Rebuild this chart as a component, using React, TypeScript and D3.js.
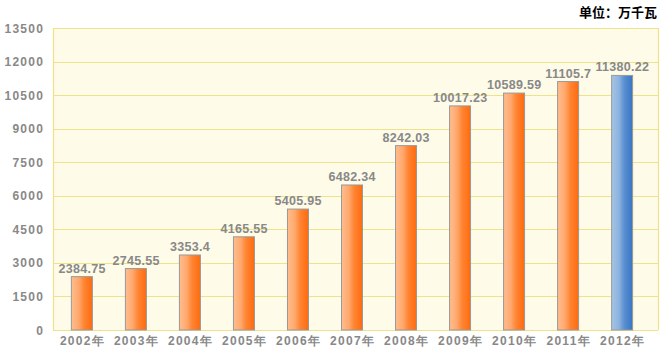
import React from "react";
import * as d3 from "d3";

const categories = ["2002年","2003年","2004年","2005年","2006年","2007年","2008年","2009年","2010年","2011年","2012年"];
const values = [2384.75, 2745.55, 3353.4, 4165.55, 5405.95, 6482.34, 8242.03, 10017.23, 10589.59, 11105.7, 11380.22];
const valueLabels = ["2384.75","2745.55","3353.4","4165.55","5405.95","6482.34","8242.03","10017.23","10589.59","11105.7","11380.22"];
const yTicks = [0, 1500, 3000, 4500, 6000, 7500, 9000, 10500, 12000, 13500];
const unitLabel = "单位：万千瓦";

export default function App() {
  const W = 663, H = 355;
  const plotL = 53, plotR = 658, plotT = 28, plotB = 330;
  const x = d3.scaleBand<string>().domain(categories).range([55, 649]).paddingInner(0.605).paddingOuter(0.3);
  const y = d3.scaleLinear().domain([0, 13500]).range([plotB, plotT]);
  const font = "'Liberation Sans', Arial, sans-serif";
  const bw = 21;
  const grid = "#EEE28A";
  return (
    <svg width={W} height={H} style={{ position: "absolute", left: 0, top: 0 }}>
      <defs>
        <linearGradient id="orange" x1="0" x2="1" y1="0" y2="0">
          <stop offset="0" stopColor="#FFBD8E" />
          <stop offset="0.35" stopColor="#FFA86E" />
          <stop offset="0.6" stopColor="#FF8533" />
          <stop offset="1" stopColor="#FF6A0E" />
        </linearGradient>
        <linearGradient id="blue" x1="0" x2="1" y1="0" y2="0">
          <stop offset="0" stopColor="#A6C4E6" />
          <stop offset="0.35" stopColor="#8DB3DF" />
          <stop offset="0.6" stopColor="#5A8FD0" />
          <stop offset="1" stopColor="#3876C4" />
        </linearGradient>
      </defs>
      <rect x={0} y={0} width={W} height={H} fill="#ffffff" />
      <rect x={plotL} y={plotT} width={plotR - plotL} height={plotB - plotT} fill="#FEFBE8" />
      {yTicks.map((t) => (
        <g key={t}>
          <line x1={plotL} x2={plotR} y1={Math.round(y(t)) + 0.5} y2={Math.round(y(t)) + 0.5} stroke={grid} strokeWidth={1.2} />
          <text x={44.3} y={y(t) + 4.5} textAnchor="end" fontFamily={font} fontSize={12} fontWeight="bold" letterSpacing={1.3} fill="#888888">{t}</text>
        </g>
      ))}
      <line x1={plotL + 0.5} x2={plotL + 0.5} y1={plotT} y2={plotB} stroke={grid} strokeWidth={1.2} />
      <line x1={plotR + 0.5} x2={plotR + 0.5} y1={plotT} y2={plotB} stroke={grid} strokeWidth={1.2} />
      {categories.map((c, i) => {
        const cx = (x(c) as number) + x.bandwidth() / 2;
        const top = y(values[i]);
        return (
          <g key={c}>
            <rect x={cx - bw / 2} y={top} width={bw} height={plotB - top}
              fill={i === categories.length - 1 ? "url(#blue)" : "url(#orange)"} stroke="#999999" strokeWidth={1} />
            <text x={cx + 0.2} y={top - 4} textAnchor="middle" fontFamily={font} fontSize={12.5} fontWeight="bold" letterSpacing={0.3} fill="#888888">{valueLabels[i]}</text>
            <text x={cx + 0.6} y={345} textAnchor="middle" fontFamily={font} fontSize={12} fontWeight="bold" letterSpacing={1.3} fill="#888888">{c}</text>
          </g>
        );
      })}
      <text x={657} y={17} textAnchor="end" fontFamily="'Noto Sans CJK SC', sans-serif" fontSize={13} fontWeight="bold" fill="#000000">{unitLabel}</text>
    </svg>
  );
}
